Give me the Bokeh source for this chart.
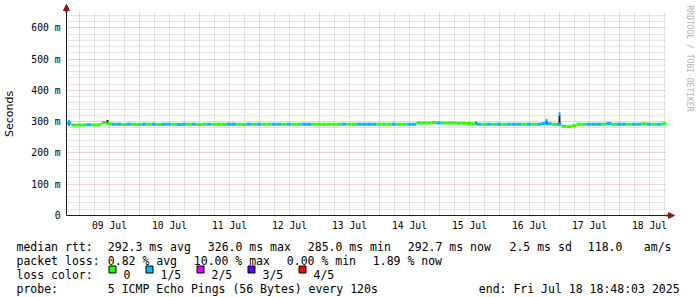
from datetime import datetime, timedelta
import math
from bokeh.plotting import figure
from bokeh.models import (FixedTicker, Range1d, Label, PolyAnnotation,
                          ColumnDataSource, LinearAxis, DatetimeAxis, Grid)
from bokeh.embed import file_html
from bokeh.resources import INLINE

# ---------------- data ----------------
start_time = datetime(2025, 7, 8, 18, 48, 3)
end_time = datetime(2025, 7, 18, 18, 48, 3)
bin_hours = 2

median_ms = [
    295, 289, 289, 289, 290, 289, 290, 297, 293, 292,
    292, 291, 292, 292, 291, 292, 292, 292, 291, 292,
    292, 292, 291, 292, 292, 292, 291, 292, 292, 292,
    292, 292, 292, 292, 292, 291, 292, 292, 292, 292,
    292, 292, 292, 292, 292, 292, 292, 292, 292, 292,
    292, 292, 292, 292, 292, 292, 292, 292, 292, 292,
    292, 292, 292, 292, 292, 292, 292, 292, 292, 292,
    296, 296, 296, 297, 296, 296, 296, 296, 295, 295,
    294, 293, 292, 292, 292, 292, 292, 292, 292, 292,
    292, 292, 292, 292, 292, 294, 293, 292, 292, 285,
    284, 287, 292, 292, 292, 292, 292, 292, 294, 292,
    292, 292, 292, 292, 292, 293, 292, 292, 292, 293,
]
loss_idx = [
    1, 0, 0, 0, 1, 0, 0, 0, 0, 1,
    1, 0, 1, 0, 0, 1, 0, 1, 0, 1,
    1, 0, 1, 1, 0, 1, 0, 0, 1, 0,
    0, 0, 1, 1, 0, 0, 1, 0, 1, 0,
    0, 1, 1, 0, 1, 0, 0, 1, 1, 0,
    0, 0, 0, 0, 0, 1, 0, 0, 1, 1,
    1, 1, 0, 0, 0, 1, 0, 0, 1, 1,
    0, 0, 0, 0, 1, 0, 0, 0, 0, 0,
    0, 0, 1, 0, 1, 0, 1, 0, 1, 1,
    1, 0, 1, 0, 1, 1, 1, 0, 1, 0,
    0, 0, 0, 0, 1, 1, 1, 0, 1, 0,
    1, 1, 0, 1, 1, 0, 1, 0, 1, 0,
]

# smoke spikes (hours after start, low / split / high in ms, loss of top)
spike_hour = [1.0, 16.4, 163.8, 192.0, 197.2]
spike_lo = [288, 290, 290, 289, 288]
spike_split = [298, 305, 300, 301, 320]
spike_hi = [306, 306, 301, 309, 330]
spike_loss = [1, 0, 0, 1, 1]

day_labels = ["09 Jul", "10 Jul", "11 Jul", "12 Jul", "13 Jul",
              "14 Jul", "15 Jul", "16 Jul", "17 Jul", "18 Jul"]
y_ticks = [0, 100, 200, 300, 400, 500, 600]
y_tick_labels = ["0", "100 m", "200 m", "300 m", "400 m", "500 m", "600 m"]
y_max = 649

loss_names = ["0", "1/5", "2/5", "3/5", "4/5"]
loss_colors = ["#26ff00", "#00b8ff", "#dd00ff", "#5e00ff", "#ff0000"]

stat_line1 = ["median rtt:", "292.3 ms avg", "326.0 ms max", "285.0 ms min",
              "292.7 ms now", "2.5 ms sd", "118.0", "am/s"]
stat_line2 = ["packet loss:", "0.82 % avg", "10.00 % max", "0.00 % min",
              "1.89 % now"]
probe_text = ["probe:", "5 ICMP Echo Pings (56 Bytes) every 120s",
              "end: Fri Jul 18 18:48:03 2025"]

# ---------------- layout (pixels) ----------------
W, H = 697, 297
PL, PR, PT, PB = 66, 666, 12, 215      # plot area on the canvas

EPOCH = datetime(1970, 1, 1)


def ms(dt):
    return (dt - EPOCH).total_seconds() * 1000.0


HOUR = 3600 * 1000.0
t0 = ms(start_time)
t1 = ms(end_time)
ms_per_px = (t1 - t0) / (PR - PL)
val_per_px = y_max / (PB - PT)

x_range = Range1d(t0 - PL * ms_per_px, t1 + (W - PR) * ms_per_px)
y_range = Range1d(-(H - PB) * val_per_px, y_max + PT * val_per_px)

n = len(median_ms)
x0 = [t0 + i * bin_hours * HOUR for i in range(n)]
x1 = [t0 + (i + 1) * bin_hours * HOUR for i in range(n)]
seg_src = ColumnDataSource(dict(
    x0=x0, x1=x1, y=median_ms,
    color=[loss_colors[k] for k in loss_idx]))

spk_src = ColumnDataSource(dict(
    x=[t0 + h * HOUR for h in spike_hour],
    lo=spike_lo, split=spike_split, hi=spike_hi,
    color=[loss_colors[k] for k in spike_loss]))

MONO = "DejaVu Sans Mono"

p = figure(width=W, height=H, output_backend="svg", toolbar_location=None,
           x_range=x_range, y_range=y_range,
           x_axis_location=None, y_axis_location=None, min_border=0)
p.outline_line_color = None
p.background_fill_color = "white"
p.border_fill_color = "white"
p.xgrid.visible = False
p.ygrid.visible = False

# ---------------- grid ----------------
day0 = datetime(2025, 7, 9)
midnights = [ms(day0 + timedelta(days=k)) for k in range(len(day_labels))]
noons = [ms(day0 + timedelta(days=k, hours=12)) for k in range(len(day_labels))]
six_h = []
t = datetime(2025, 7, 8, 18)
while ms(t) <= t1:
    if ms(t) >= t0 and t.hour != 0:
        six_h.append(ms(t))
    t += timedelta(hours=6)
y_minor = [v for v in range(20, y_max, 20) if v % 100 != 0]

xg = Grid(dimension=0, ticker=FixedTicker(ticks=midnights, minor_ticks=six_h),
          bounds=(t0, t1), cross_bounds=(0, y_max))
yg = Grid(dimension=1, ticker=FixedTicker(ticks=y_ticks, minor_ticks=y_minor),
          bounds=(0, y_max), cross_bounds=(t0, t1))
for g in (xg, yg):
    g.grid_line_color = "#de5050"
    g.grid_line_alpha = 0.5
    g.grid_line_dash = "1 1"
    g.minor_grid_line_color = "#8f8f8f"
    g.minor_grid_line_alpha = 0.45
    g.minor_grid_line_dash = "1 1"
    p.add_layout(g)

# ---------------- axes ----------------
xax = DatetimeAxis(fixed_location=0, bounds=(t0, t1),
                   ticker=FixedTicker(ticks=noons))
xax.major_label_overrides = {tk: lab for tk, lab in zip(noons, day_labels)}
yax = LinearAxis(fixed_location=t0, bounds=(0, y_max),
                 ticker=FixedTicker(ticks=y_ticks))
yax.major_label_overrides = {tk: lab for tk, lab in zip(y_ticks, y_tick_labels)}
for ax in (xax, yax):
    ax.axis_line_color = "#1f1f1f"
    ax.major_tick_line_color = None
    ax.minor_tick_line_color = None
    ax.major_tick_out = 0
    ax.major_tick_in = 0
    ax.major_label_text_font = MONO
    ax.major_label_text_font_size = "9.7px"
    ax.major_label_text_color = "black"
xax.major_label_standoff = 4
yax.major_label_standoff = 6
yax.axis_label = "Seconds"
yax.axis_label_text_font = "DejaVu Sans"
yax.axis_label_text_font_size = "11px"
yax.axis_label_text_font_style = "normal"
yax.axis_label_text_color = "black"
yax.axis_label_standoff = 12
p.add_layout(xax, "below")
p.add_layout(yax, "left")

# ---------------- data marks ----------------
p.vbar(x="x", width=0.8 * HOUR, bottom="lo", top="split", source=spk_src,
       fill_color="#1e1e1e", line_color=None)
p.segment(x0="x0", y0="y", x1="x1", y1="y", source=seg_src,
          line_color="color", line_width=3, line_cap="butt")
p.vbar(x="x", width=0.8 * HOUR, bottom="split", top="hi", source=spk_src,
       fill_color="color", line_color=None)


# ---------------- texts (screen units = canvas, y up) ----------------
def add_text(x, y, s, size="11.5px", color="black", angle=0.0,
             baseline="alphabetic"):
    p.add_layout(Label(x=x, y=H - y, x_units="screen", y_units="screen",
                       text=s, text_font=MONO, text_font_size=size,
                       text_color=color, text_align="left", angle=angle,
                       text_baseline=baseline))


def add_poly(xs, ys, col, line=None):
    p.add_layout(PolyAnnotation(xs=xs, ys=[H - v for v in ys],
                                xs_units="screen", ys_units="screen",
                                fill_color=col, fill_alpha=1,
                                line_color=line or col, line_alpha=1,
                                line_width=1))


line1_x = [16, 107.3, 207.3, 307.3, 407.3, 509, 587.3, 643.3]
for xx, s in zip(line1_x, stat_line1):
    add_text(xx, 246, s)
line2_x = [16, 107.3, 193.3, 286.3, 372.3]
for xx, s in zip(line2_x, stat_line2):
    add_text(xx, 260, s)
add_text(16, 274, "loss color:")
sw_x = [108.5, 145.5, 196.5, 247.5, 298.5]
for xx, name, col in zip(sw_x, loss_names, loss_colors):
    add_poly([xx, xx + 7, xx + 7, xx], [265.5, 265.5, 272.5, 272.5], col,
             line="black")
    add_text(xx + 14.5, 274, name)
probe_x = [16, 107.3, 478.3]
for xx, s in zip(probe_x, probe_text):
    add_text(xx, 288, s)

# watermark
add_text(689, 5, "RRDTOOL / TOBI OETIKER", size="8px", color="#b4b4b4",
         angle=-math.pi / 2, baseline="middle")

# axis extensions and arrow heads
add_poly([PR, PR + 4, PR + 4, PR], [PB - 0.5, PB - 0.5, PB + 0.5, PB + 0.5],
         "#1f1f1f")
add_poly([PL - 0.5, PL + 0.5, PL + 0.5, PL - 0.5], [PT - 3, PT - 3, PT, PT],
         "#1f1f1f")
add_poly([PR + 2, PR + 8, PR + 2], [PB - 3, PB, PB + 3], "#7f1f1f")
add_poly([PL - 3, PL, PL + 3], [PT - 2, PT - 8, PT - 2], "#7f1f1f")

open("out.html", "w").write(file_html(p, INLINE))
